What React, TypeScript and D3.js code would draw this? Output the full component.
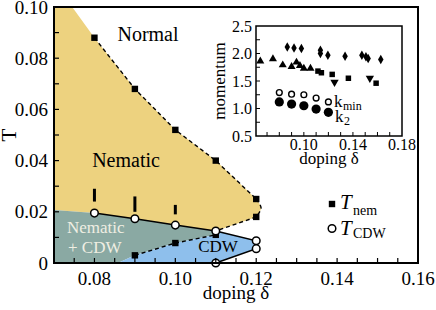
import React from "react";
import * as d3 from "d3";

// ---- main panel data ----
const xTickLabels = ["0.08", "0.10", "0.12", "0.14", "0.16"];
const yTickLabels = ["0", "0.02", "0.04", "0.06", "0.08", "0.10"];

// T_nem (filled squares)
const tNem: [number, number][] = [
  [0.08, 0.088], [0.09, 0.068], [0.10, 0.052], [0.11, 0.040],
  [0.12, 0.025], [0.12, 0.018], [0.09, 0.003], [0.10, 0.0078], [0.11, 0.011],
];
// T_CDW (open circles)
const tCdw: [number, number][] = [
  [0.08, 0.0195], [0.09, 0.0173], [0.10, 0.0148], [0.11, 0.0125],
  [0.12, 0.0087], [0.12, 0.0056], [0.11, 0],
];
// vertical bars above T_CDW: [doping, low, high]
const bars: [number, number, number][] = [
  [0.08, 0.024, 0.029], [0.09, 0.020, 0.026], [0.10, 0.019, 0.0227],
];

// phase boundaries
const nemUpper: [number, number][] = [
  [0.0745, 0.1], [0.08, 0.088], [0.09, 0.068], [0.10, 0.052], [0.11, 0.040], [0.12, 0.025],
];
const nemBulge: [number, number][] = [[0.12, 0.025], [0.1212, 0.0215], [0.12, 0.018]];
const nemLower: [number, number][] = [[0.12, 0.018], [0.11, 0.0125]];
const cdwUpper: [number, number][] = [
  [0.07, 0.0207], [0.08, 0.0195], [0.09, 0.0173], [0.10, 0.0148], [0.11, 0.0125],
];
const cdwTail: [number, number][] = [[0.11, 0.0125], [0.12, 0.0087], [0.12, 0.0056], [0.11, 0]];
const cdwLower: [number, number][] = [[0.0858, 0], [0.09, 0.003], [0.10, 0.0078], [0.11, 0.011]];

// ---- inset data ----
const insetXLabels = ["0.10", "0.14", "0.18"];
const insetYLabels = ["0.5", "1.0", "1.5", "2.0", "2.5"];
const diamonds: [number, number][] = [
  [0.0865, 2.12], [0.092, 2.10], [0.098, 2.09], [0.1135, 2.06], [0.1135, 2.0],
  [0.1196, 1.97], [0.1336, 1.95], [0.1473, 1.97], [0.1506, 1.94], [0.1524, 1.91], [0.1627, 1.89],
];
const trianglesUp: [number, number][] = [
  [0.0645, 1.86], [0.0748, 1.9], [0.0828, 1.79], [0.09, 1.76], [0.094, 1.84],
  [0.0968, 1.78], [0.10, 1.73], [0.1054, 1.73],
];
const squaresIn: [number, number][] = [
  [0.1115, 1.68], [0.1143, 1.65], [0.1231, 1.62], [0.1363, 1.55], [0.1589, 1.46],
];
const trianglesDown: [number, number][] = [[0.125, 1.48], [0.1538, 1.55]];
const kMin: [number, number][] = [[0.08, 1.29], [0.09, 1.26], [0.10, 1.25], [0.11, 1.19], [0.12, 1.12]];
const k2: [number, number][] = [[0.08, 1.12], [0.09, 1.08], [0.10, 1.05], [0.11, 0.99], [0.12, 0.93]];

const YELLOW = "#EDD27F";
const TEAL = "#8AA9A3";
const BLUE = "#8EBFEC";
const FONT = "Liberation Serif, Times New Roman, serif";

export default function App() {
  const x = d3.scaleLinear().domain([0.07, 0.16]).range([54, 418]);
  const y = d3.scaleLinear().domain([0, 0.1]).range([263, 7]);
  const ix = d3.scaleLinear().domain([0.061, 0.18]).range([256, 402]);
  const iy = d3.scaleLinear().domain([0.5, 2.5]).range([136, 26]);

  const line = d3.line<[number, number]>().x((d) => x(d[0])).y((d) => y(d[1]));
  const smooth = d3
    .line<[number, number]>()
    .x((d) => x(d[0]))
    .y((d) => y(d[1]))
    .curve(d3.curveCatmullRom);
  const pts = (arr: [number, number][]) => arr.map((d) => `${x(d[0])},${y(d[1])}`).join("L");

  // yellow: upper dashed boundary, the bulge at 0.12, then back along the CDW line
  const yellowD =
    "M" + pts(nemUpper) +
    smooth(nemBulge)!.replace(/^M[^C]*/, "") +
    "L" + pts([...nemLower.slice(1), ...cdwUpper.slice().reverse(), [0.07, 0.1]]) + "Z";
  const tealPoly: [number, number][] = [...cdwUpper, ...cdwLower.slice().reverse(), [0.07, 0]];
  const bluePoly: [number, number][] = [...cdwLower, ...cdwTail];

  const xMinor = d3.range(15, 32).map((i) => i * 0.005);
  const yMinor = d3.range(1, 10).map((i) => i * 0.01);
  const ixTicks = d3.range(7, 18).map((i) => i * 0.01);
  const iyTicks = d3.range(1, 8).map((i) => 0.5 + i * 0.25);

  const sym = (type: d3.SymbolType, size: number) => d3.symbol().type(type).size(size)()!;
  const dash = { fill: "none", stroke: "#000", strokeWidth: 1.4, strokeDasharray: "4,3" };

  return (
    <svg
      width={436}
      height={310}
      style={{ position: "absolute", left: 0, top: 0, background: "#fff", fontFamily: FONT }}
    >
      {/* phase regions */}
      <path d={yellowD} fill={YELLOW} />
      <path d={line(tealPoly)! + "Z"} fill={TEAL} />
      <path d={line(bluePoly)! + "Z"} fill={BLUE} />

      {/* boundaries */}
      <path d={line(nemUpper.slice(1))!} {...dash} />
      <path d={smooth(nemBulge)!} {...dash} />
      <path d={line(nemLower)!} {...dash} />
      <path d={line(cdwLower.slice(1))!} {...dash} />
      <path d={line(cdwUpper.slice(1))!} fill="none" stroke="#000" strokeWidth={1.5} />
      <path d={line(cdwTail)!} fill="none" stroke="#000" strokeWidth={1.5} />

      {/* bars */}
      {bars.map((b, i) => (
        <line key={i} x1={x(b[0])} x2={x(b[0])} y1={y(b[1])} y2={y(b[2])} stroke="#000" strokeWidth={3} />
      ))}

      {/* markers */}
      {tNem.map((d, i) => (
        <rect key={i} x={x(d[0]) - 3.2} y={y(d[1]) - 3.2} width={6.4} height={6.4} fill="#000" />
      ))}
      {tCdw.map((d, i) => (
        <circle key={i} cx={x(d[0])} cy={y(d[1])} r={3.8} fill="#fff" stroke="#000" strokeWidth={1.5} />
      ))}

      {/* region labels */}
      <text x={148} y={41} fontSize={20} textAnchor="middle">Normal</text>
      <text x={126} y={167} fontSize={20} textAnchor="middle">Nematic</text>
      <text x={67} y={233} fontSize={17} fill="#EFEEE2">Nematic</text>
      <text x={68} y={253} fontSize={17} fill="#EFEEE2">+ CDW</text>
      <text x={218} y={252} fontSize={17} textAnchor="middle">CDW</text>

      {/* legend */}
      <rect x={328.8} y={200.8} width={6.4} height={6.4} fill="#000" />
      <text x={340} y={209} fontSize={21} fontStyle="italic">T</text>
      <text x={353} y={215} fontSize={14}>nem</text>
      <circle cx={332} cy={228.5} r={3.8} fill="#fff" stroke="#000" strokeWidth={1.5} />
      <text x={340} y={235} fontSize={21} fontStyle="italic">T</text>
      <text x={353} y={238} fontSize={14}>CDW</text>

      {/* main frame and ticks */}
      {xMinor.map((t, i) => (
        <line key={i} x1={x(t)} x2={x(t)} y1={263} y2={258} stroke="#000" strokeWidth={1.2} />
      ))}
      {yMinor.map((t, i) => (
        <line key={i} x1={54} x2={59} y1={y(t)} y2={y(t)} stroke="#000" strokeWidth={1.2} />
      ))}
      <rect x={54} y={7} width={364} height={256} fill="none" stroke="#000" strokeWidth={2} />
      {xTickLabels.map((s) => (
        <text key={s} x={x(+s)} y={285} fontSize={19} textAnchor="middle">{s}</text>
      ))}
      {yTickLabels.map((s) => (
        <text key={s} x={48} y={y(+s)} dy="0.35em" fontSize={19} textAnchor="end">{s}</text>
      ))}
      <text x={236} y={299} fontSize={19} textAnchor="middle">doping δ</text>
      <text transform="translate(16,135) rotate(-90)" fontSize={21} textAnchor="middle">T</text>

      {/* inset */}
      {diamonds.map((d, i) => (
        <path key={i} transform={`translate(${ix(d[0])},${iy(d[1])})`} d={sym(d3.symbolDiamond, 26)} fill="#000" />
      ))}
      {trianglesUp.map((d, i) => (
        <path key={i} transform={`translate(${ix(d[0])},${iy(d[1])})`} d={sym(d3.symbolTriangle, 28)} fill="#000" />
      ))}
      {trianglesDown.map((d, i) => (
        <path key={i} transform={`translate(${ix(d[0])},${iy(d[1])}) rotate(180)`} d={sym(d3.symbolTriangle, 30)} fill="#000" />
      ))}
      {squaresIn.map((d, i) => (
        <path key={i} transform={`translate(${ix(d[0])},${iy(d[1])})`} d={sym(d3.symbolSquare, 30)} fill="#000" />
      ))}
      {kMin.map((d, i) => (
        <circle key={i} cx={ix(d[0])} cy={iy(d[1])} r={2.9} fill="#fff" stroke="#000" strokeWidth={1.4} />
      ))}
      {k2.map((d, i) => (
        <circle key={i} cx={ix(d[0])} cy={iy(d[1])} r={4.6} fill="#000" />
      ))}
      <text x={334} y={107} fontSize={17}>k</text>
      <text x={343} y={110} fontSize={12}>min</text>
      <text x={335} y={122} fontSize={17}>k</text>
      <text x={344} y={125} fontSize={12}>2</text>

      {ixTicks.map((t, i) => (
        <line key={i} x1={ix(t)} x2={ix(t)} y1={136} y2={132} stroke="#000" strokeWidth={1} />
      ))}
      {iyTicks.map((t, i) => (
        <line key={i} x1={256} x2={260} y1={iy(t)} y2={iy(t)} stroke="#000" strokeWidth={1} />
      ))}
      <rect x={256} y={26} width={146} height={110} fill="none" stroke="#000" strokeWidth={1.5} />
      {insetXLabels.map((s) => (
        <text key={s} x={ix(+s)} y={150} fontSize={16} textAnchor="middle">{s}</text>
      ))}
      {insetYLabels.map((s) => (
        <text key={s} x={252} y={iy(+s)} dy="0.35em" fontSize={16} textAnchor="end">{s}</text>
      ))}
      <text x={329} y={164} fontSize={17} textAnchor="middle">doping δ</text>
      <text transform="translate(225,81) rotate(-90)" fontSize={17} textAnchor="middle">momentum</text>
    </svg>
  );
}
